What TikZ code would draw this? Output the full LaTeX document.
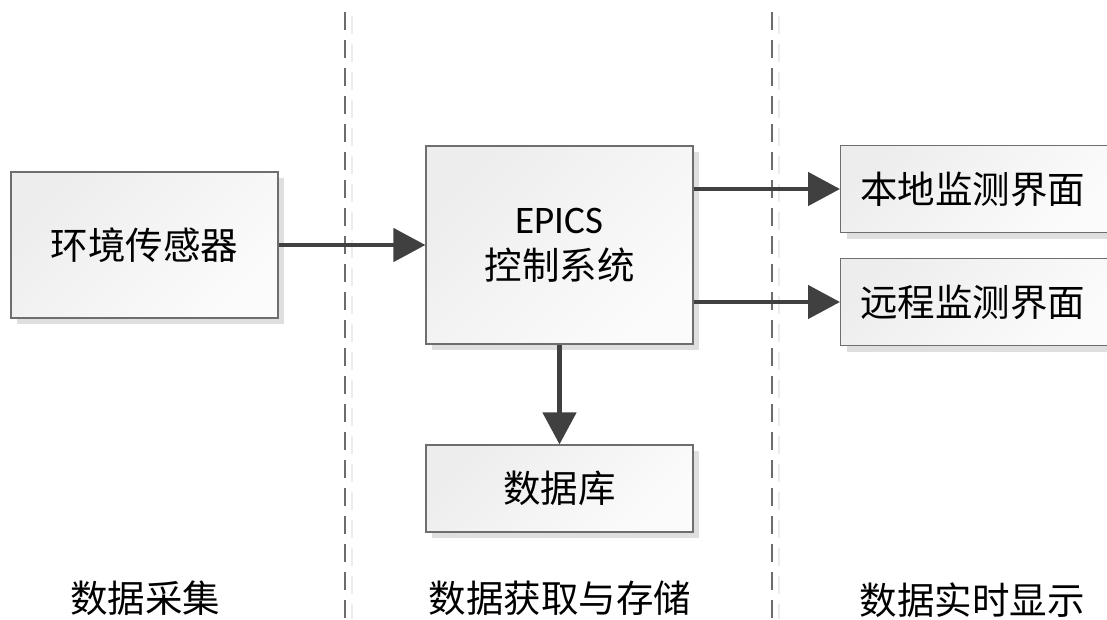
\documentclass[tikz,border=0pt]{standalone}
\usepackage{fontspec}
\setmainfont{Carlito}
\newfontfamily\cjk{Noto Sans CJK SC}[Scale=1]
\usetikzlibrary{arrows.meta,shadows}
\definecolor{arrowc}{HTML}{404040}
\definecolor{boxline}{HTML}{6E6E6E}
\tikzset{
  blk/.style={draw=boxline, line width=1.2pt, left color=gray!14, right color=white!97!gray,
    shading angle=45, drop shadow={shadow xshift=6pt, shadow yshift=-6pt, fill=gray!25, opacity=1},
    inner sep=0pt, font=\cjk\fontsize{37.5}{42}\selectfont, align=center},
  conn/.style={draw=arrowc, line width=4.8pt, -{Triangle[length=32pt,width=33pt]}},
  divd/.style={draw=gray!85!black, line width=1.5pt, dash pattern=on 18pt off 10pt},
  divl/.style={draw=gray!15, line width=1.5pt, dash pattern=on 18pt off 10pt},
  lbl/.style={font=\cjk\fontsize{37.5}{42}\selectfont, inner sep=0pt}
}
\begin{document}
\begin{tikzpicture}[x=1pt,y=-1pt]
\useasboundingbox (0,0) rectangle (1107,619);
% dividers
\draw[divl] (352,16) -- (352,619);
\draw[divd] (345,12) -- (345,619);
\draw[divl] (779,16) -- (779,619);
\draw[divd] (772,12) -- (772,619);
% boxes
\node[blk, minimum width=267pt, minimum height=146pt] (sensor) at (144.5,245) {环境传感器};
\node[blk, minimum width=267pt, minimum height=198pt] (epics) at (559.5,245) {{\fontsize{39}{42}\selectfont\rmfamily EPICS}\\[4pt]控制系统};
\node[blk, minimum width=272pt, minimum height=87pt, anchor=west] (local) at (840,189) {\hspace*{-8pt}本地监测界面};
\node[blk, minimum width=272pt, minimum height=87pt, anchor=west] (remote) at (840,302) {\hspace*{-8pt}远程监测界面};
\node[blk, minimum width=267pt, minimum height=87pt] (db) at (559.5,488.5) {数据库};
% connectors
\draw[conn] (sensor.east) -- (epics.west);
\draw[conn] (epics.east |- local.west) -- (local.west);
\draw[conn] (epics.east |- remote.west) -- (remote.west);
\draw[conn] (epics.south) -- (db.north);
% bottom labels
\node[lbl] (l1) at (145,598) {数据采集};
\node[lbl] (l2) at (560,598) {数据获取与存储};
\node[lbl] (l3) at (972,600) {数据实时显示};
\end{tikzpicture}
\end{document}
